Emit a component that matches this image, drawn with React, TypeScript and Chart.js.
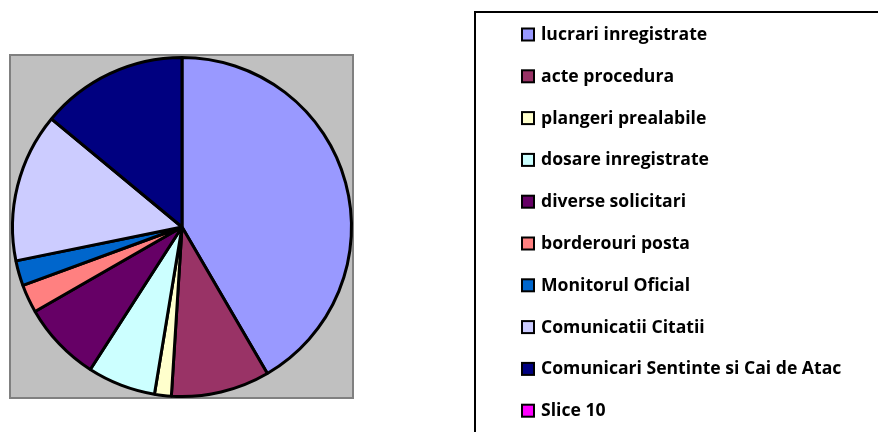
import React, { useEffect, useRef } from "react";
import { Chart, registerables } from "chart.js";

Chart.register(...registerables);

const categories = [
  "lucrari inregistrate",
  "acte procedura",
  "plangeri prealabile",
  "dosare inregistrate",
  "diverse solicitari",
  "borderouri posta",
  "Monitorul Oficial",
  "Comunicatii Citatii",
  "Comunicari Sentinte si Cai de Atac",
  "Slice 10",
];

const values = [41.6, 9.4, 1.6, 6.5, 7.6, 2.7, 2.4, 14.2, 14.0, 0];

const colors = [
  "#9999FF",
  "#993366",
  "#FFFFCC",
  "#CCFFFF",
  "#660066",
  "#FF8080",
  "#0066CC",
  "#CCCCFF",
  "#000080",
  "#FF00FF",
];

const plotBoxPlugin = {
  id: "plotBox",
  beforeDraw(chart: any) {
    const ctx = chart.ctx;
    ctx.save();
    ctx.fillStyle = "#C0C0C0";
    ctx.fillRect(10, 55, 343, 343);
    ctx.strokeStyle = "#808080";
    ctx.lineWidth = 2;
    ctx.strokeRect(10, 55, 343, 343);
    ctx.restore();
  },
};

const legendBoxPlugin = {
  id: "legendBox",
  afterDraw(chart: any) {
    const ctx = chart.ctx;
    const labels = chart.data.labels as string[];
    const bg = chart.data.datasets[0].backgroundColor as string[];
    ctx.save();
    ctx.strokeStyle = "#000000";
    ctx.lineWidth = 2;
    ctx.strokeRect(475, 12, 600, 600);
    ctx.font = "bold 17.6px 'Open Sans'";
    ctx.textBaseline = "middle";
    ctx.textAlign = "left";
    labels.forEach((lab, i) => {
      const cy = 34.5 + i * 41.8;
      ctx.fillStyle = bg[i];
      ctx.fillRect(522, cy - 6, 12, 12);
      ctx.strokeStyle = "#000000";
      ctx.lineWidth = 2;
      ctx.strokeRect(522, cy - 6, 12, 12);
      ctx.fillStyle = "#000000";
      ctx.fillText(lab, 541, cy + 0.5);
    });
    ctx.restore();
  },
};

export default function App() {
  const ref = useRef<HTMLCanvasElement | null>(null);
  useEffect(() => {
    if (!ref.current) return;
    const chart = new Chart(ref.current, {
      type: "pie",
      data: {
        labels: categories,
        datasets: [
          {
            data: values,
            backgroundColor: colors,
            borderColor: "#000000",
            borderWidth: 3,
          },
        ],
      },
      options: {
        responsive: false,
        animation: false,
        layout: { padding: { left: 11, top: 56, right: 525, bottom: 34 } },
        plugins: {
          legend: { display: false },
          tooltip: { enabled: false },
        },
      },
      plugins: [plotBoxPlugin, legendBoxPlugin],
    });
    return () => chart.destroy();
  }, []);
  return (
    <div style={{ position: "fixed", left: 0, top: 0, width: 878, height: 432, background: "#fff" }}>
      <canvas ref={ref} width={878} height={432} />
    </div>
  );
}
